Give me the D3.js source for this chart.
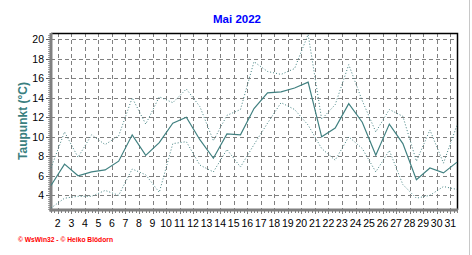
<!DOCTYPE html>
<html>
<head>
<meta charset="utf-8">
<style>
  body { margin: 0; background: #fff; }
  text { font-family: Arial, "Liberation Sans", sans-serif; }
</style>
</head>
<body>
  <div id="chart"></div>
  <script src="https://cdn.jsdelivr.net/npm/d3@7/dist/d3.min.js"></script>
  <script>
    // Taupunkt Mai 2022
    var days = d3.range(1, 32);
    var meanVals = [5.0, 7.2, 6.0, 6.4, 6.6, 7.5, 10.2, 8.1, 9.4, 11.4, 12.0, 9.7, 7.8, 10.3, 10.2, 12.9,
                    14.5, 14.6, 15.0, 15.6, 10.0, 10.9, 13.4, 11.5, 8.1, 11.3, 9.3, 5.6, 6.8, 6.3, 7.4];
    var maxVals = [6.8, 10.5, 7.9, 10.2, 9.2, 10.1, 14.0, 11.3, 14.1, 13.5, 14.9, 13.1, 9.6, 12.2, 12.8, 17.7,
                   16.7, 16.4, 17.0, 20.5, 11.8, 13.3, 17.4, 13.7, 10.5, 12.8, 12.1, 7.5, 10.7, 7.3, 11.2];
    var minVals = [2.7, 3.7, 3.9, 3.9, 4.5, 4.0, 6.7, 6.1, 4.3, 9.3, 9.5, 7.1, 6.4, 8.7, 6.9, 9.2,
                   11.4, 13.5, 12.8, 11.2, 8.8, 7.6, 10.0, 8.8, 6.4, 8.6, 5.1, 3.7, 4.0, 4.9, 4.6];
    var xLabels = d3.range(2, 32);
    var yTicks = [4, 6, 8, 10, 12, 14, 16, 18, 20];

    var svgW = 472, svgH = 255;
    var pLeft = 51, pRight = 457, pTop = 33, pBottom = 210;
    var lineColor = '#408080';

    var svg = d3.select('#chart').append('svg')
      .attr('width', svgW)
      .attr('height', svgH);

    svg.append('rect').attr('width', svgW).attr('height', svgH).attr('fill', '#fff');

    var x = d3.scaleLinear().domain([1, 31]).range([pLeft, pRight]);
    var y = d3.scaleLinear().domain([4, 20]).range([195.3, 39.3]);

    // frame line at the right edge of the image
    svg.append('line')
      .attr('x1', 469.5).attr('x2', 469.5).attr('y1', 0).attr('y2', svgH)
      .attr('stroke', '#c8c8c8').attr('stroke-width', 1);

    // dashed grid
    svg.selectAll('.hgrid')
      .data(yTicks)
      .enter()
      .append('line')
      .attr('class', 'hgrid')
      .attr('x1', pLeft).attr('x2', pRight)
      .attr('y1', function(d){ return Math.round(y(d)) + 0.5; })
      .attr('y2', function(d){ return Math.round(y(d)) + 0.5; })
      .attr('stroke', '#808080').attr('stroke-dasharray', '4,3');

    svg.selectAll('.vgrid')
      .data(xLabels)
      .enter()
      .append('line')
      .attr('class', 'vgrid')
      .attr('x1', function(d){ return Math.round(x(d - 0.5)) + 0.5; })
      .attr('x2', function(d){ return Math.round(x(d - 0.5)) + 0.5; })
      .attr('y1', pTop).attr('y2', pBottom)
      .attr('stroke', '#808080').attr('stroke-dasharray', '4,3');

    // top and right border
    svg.append('path')
      .attr('d', 'M' + pLeft + ',' + (pTop + 0.5) + 'H' + (pRight + 0.5) + 'V' + pBottom)
      .attr('fill', 'none').attr('stroke', '#000').attr('stroke-width', 1.5);

    // minor ticks on x axis (6 h)
    svg.selectAll('.xminor')
      .data(d3.range(1, 31.01, 0.25))
      .enter()
      .append('line')
      .attr('class', 'xminor')
      .attr('x1', function(d){ return Math.round(x(d)) + 0.5; })
      .attr('x2', function(d){ return Math.round(x(d)) + 0.5; })
      .attr('y1', pBottom).attr('y2', pBottom + 3)
      .attr('stroke', '#808080');

    svg.selectAll('.xmajor')
      .data(xLabels)
      .enter()
      .append('line')
      .attr('class', 'xmajor')
      .attr('x1', function(d){ return Math.round(x(d - 0.5)) + 0.5; })
      .attr('x2', function(d){ return Math.round(x(d - 0.5)) + 0.5; })
      .attr('y1', pBottom).attr('y2', pBottom + 4)
      .attr('stroke', '#808080');

    // minor ticks on y axis
    svg.selectAll('.yminor')
      .data(d3.range(2.6, 20.6, 0.2))
      .enter()
      .append('line')
      .attr('class', 'yminor')
      .attr('x1', pLeft - 3).attr('x2', pLeft - 1)
      .attr('y1', function(d){ return Math.round(y(d)) + 0.5; })
      .attr('y2', function(d){ return Math.round(y(d)) + 0.5; })
      .attr('stroke', '#a0a0a0');

    svg.selectAll('.ymajor')
      .data(yTicks)
      .enter()
      .append('line')
      .attr('class', 'ymajor')
      .attr('x1', pLeft - 5).attr('x2', pLeft)
      .attr('y1', function(d){ return Math.round(y(d)) + 0.5; })
      .attr('y2', function(d){ return Math.round(y(d)) + 0.5; })
      .attr('stroke', '#606060');

    // axes (thick gray)
    svg.append('line')
      .attr('x1', pLeft).attr('x2', pLeft).attr('y1', pTop).attr('y2', pBottom + 1.5)
      .attr('stroke', '#808080').attr('stroke-width', 3);
    svg.append('line')
      .attr('x1', pLeft - 1.5).attr('x2', pRight + 1).attr('y1', pBottom).attr('y2', pBottom)
      .attr('stroke', '#808080').attr('stroke-width', 3);

    // tick labels
    svg.selectAll('.ylab')
      .data(yTicks)
      .enter()
      .append('text')
      .attr('class', 'ylab')
      .attr('x', 44)
      .attr('y', function(d){ return y(d) + 3.8; })
      .attr('text-anchor', 'end')
      .attr('font-size', '10.5px')
      .attr('fill', '#000')
      .text(function(d){ return d; });

    svg.selectAll('.xlab')
      .data(xLabels)
      .enter()
      .append('text')
      .attr('class', 'xlab')
      .attr('x', function(d){ return x(d - 0.5); })
      .attr('y', 227)
      .attr('text-anchor', 'middle')
      .attr('font-size', '10.5px')
      .attr('fill', '#000')
      .text(function(d){ return d; });

    // data lines
    function makeLine(vals) {
      return d3.line()
        .x(function(d, i){ return x(days[i]); })
        .y(function(d){ return y(d); })(vals);
    }
    var plot = svg.append('g');
    plot.append('path')
      .attr('d', makeLine(maxVals))
      .attr('fill', 'none').attr('stroke', lineColor).attr('stroke-width', 1)
      .attr('stroke-dasharray', '1,2');
    plot.append('path')
      .attr('d', makeLine(minVals))
      .attr('fill', 'none').attr('stroke', lineColor).attr('stroke-width', 1)
      .attr('stroke-dasharray', '1,2');
    plot.append('path')
      .attr('d', makeLine(meanVals))
      .attr('fill', 'none').attr('stroke', lineColor).attr('stroke-width', 1.2);

    // titles
    svg.append('text')
      .attr('x', 237).attr('y', 22.5)
      .attr('text-anchor', 'middle')
      .attr('font-size', '11.5px').attr('font-weight', 'bold')
      .attr('fill', '#0000ff')
      .text('Mai 2022');

    svg.append('text')
      .attr('transform', 'translate(27,121) rotate(-90)')
      .attr('text-anchor', 'middle')
      .attr('font-size', '12px').attr('font-weight', 'bold')
      .attr('fill', '#3a7f7f')
      .text('Taupunkt  (°C)');

    svg.append('text')
      .attr('x', 18).attr('y', 242)
      .attr('font-size', '7px').attr('font-weight', 'bold')
      .attr('fill', '#ff0000')
      .attr('textLength', 95).attr('lengthAdjust', 'spacingAndGlyphs')
      .text('© WsWin32 - © Heiko Blödorn');
  </script>
</body>
</html>
